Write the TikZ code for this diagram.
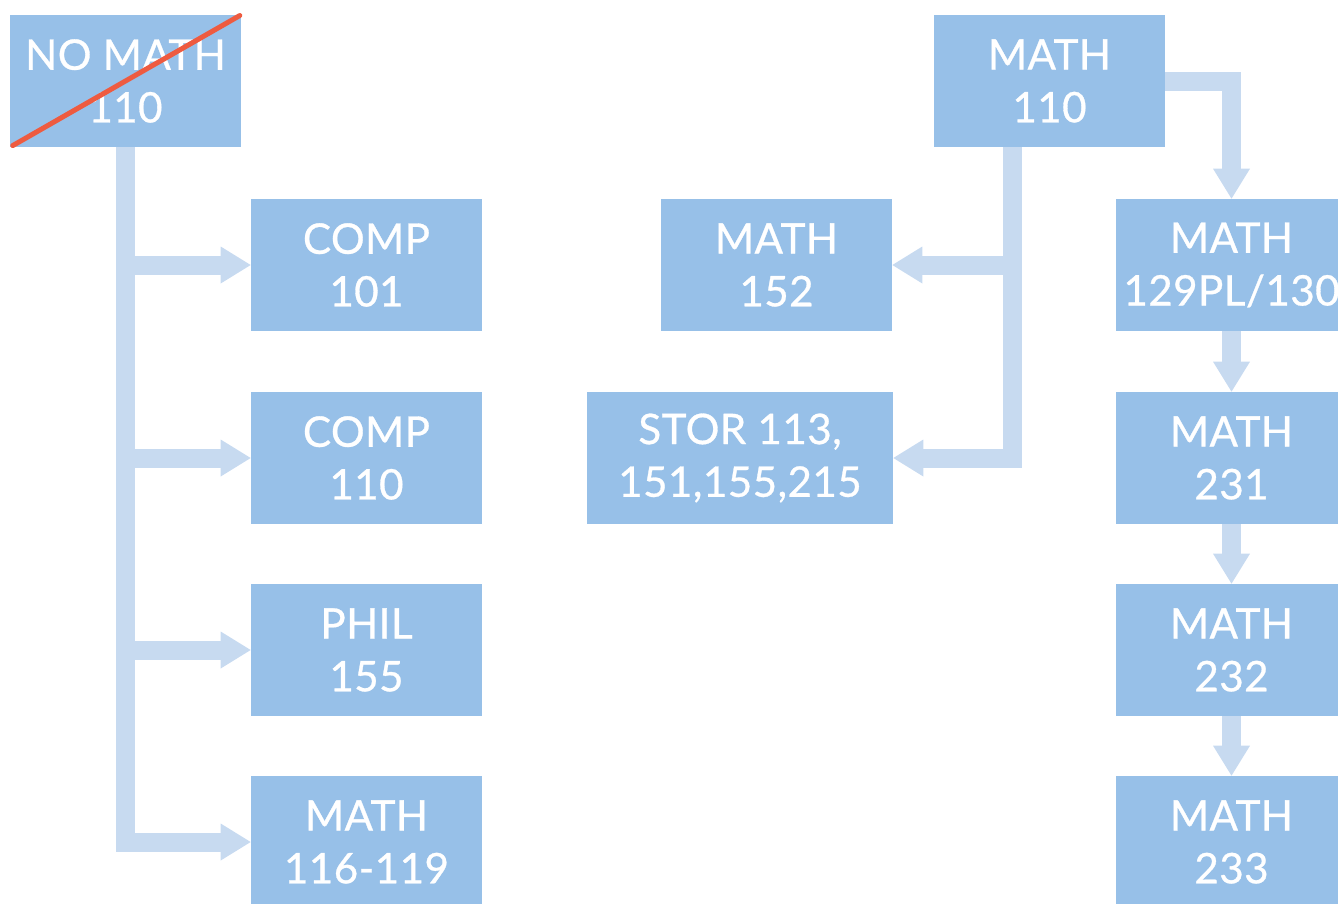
\documentclass[tikz,border=0pt]{standalone}
\usepackage{fontspec}
\setmainfont{Lato}[LetterSpace=1, FakeBold=0.7]
\usetikzlibrary{arrows.meta}
\definecolor{boxblue}{HTML}{97C0E8}
\definecolor{flowblue}{HTML}{C7DAF0}
\definecolor{strikered}{HTML}{EE5B40}
\tikzset{
    course/.style={fill=boxblue, text=white, minimum width=4.62cm, minimum height=2.64cm,
        inner sep=0pt, align=center, font=\fontsize{24}{30}\selectfont},
    flow/.style={draw=flowblue, line width=0.38cm,
        -{Triangle[width=0.74cm, length=0.6cm, line width=0pt]}},
}

\begin{document}
\begin{tikzpicture}[x=0.02cm, y=-0.02cm]
            %\draw[lightgray] (0, 0) grid (1338, 903);
            \clip (0, 0) rectangle (1338, 903);
            \useasboundingbox (0, 0) rectangle (1338, 903);
            % left column
            \node[course] (no-math) at (125.5, 81) {NO MATH\\110};
            \node[course] (comp-101) at (366.5, 265) {COMP\\101};
            \node[course] (comp-110) at (366.5, 458) {COMP\\110};
            \node[course] (phil-155) at (366.5, 650) {PHIL\\155};
            \node[course] (math-116) at (366.5, 842) {MATH\\116-119};
            \draw[flow] (no-math.south) |- (comp-101.west);
            \draw[flow] (no-math.south) |- (comp-110.west);
            \draw[flow] (no-math.south) |- (phil-155.west);
            \draw[flow] (no-math.south) |- (math-116.west);
            \draw[strikered, line width=0.1cm, line cap=round, shorten <=2pt, shorten >=1pt]
                (no-math.south west) -- (no-math.north east);
            % right part
            \node[course] (math-110) at (1049.5, 81) {MATH\\110};
            \node[course] (math-152) at (776.5, 265) {MATH\\152};
            \node[course, minimum width=6.12cm] (stor) at (740, 458) {STOR 113,\\151,155,215};
            \node[course] (math-129) at (1231.5, 265) {MATH\\129PL/130};
            \node[course] (math-231) at (1231.5, 458) {MATH\\231};
            \node[course] (math-232) at (1231.5, 650) {MATH\\232};
            \node[course] (math-233) at (1231.5, 842) {MATH\\233};
            \coordinate (split) at (1012, 147);
            \draw[flow] (split) |- (math-152.east);
            \draw[flow] (split) |- (stor.east);
            \draw[flow] (math-110.east) -| (math-129.north);
            \draw[flow] (math-129) -- (math-231);
            \draw[flow] (math-231) -- (math-232);
            \draw[flow] (math-232) -- (math-233);
        \end{tikzpicture}
\end{document}
